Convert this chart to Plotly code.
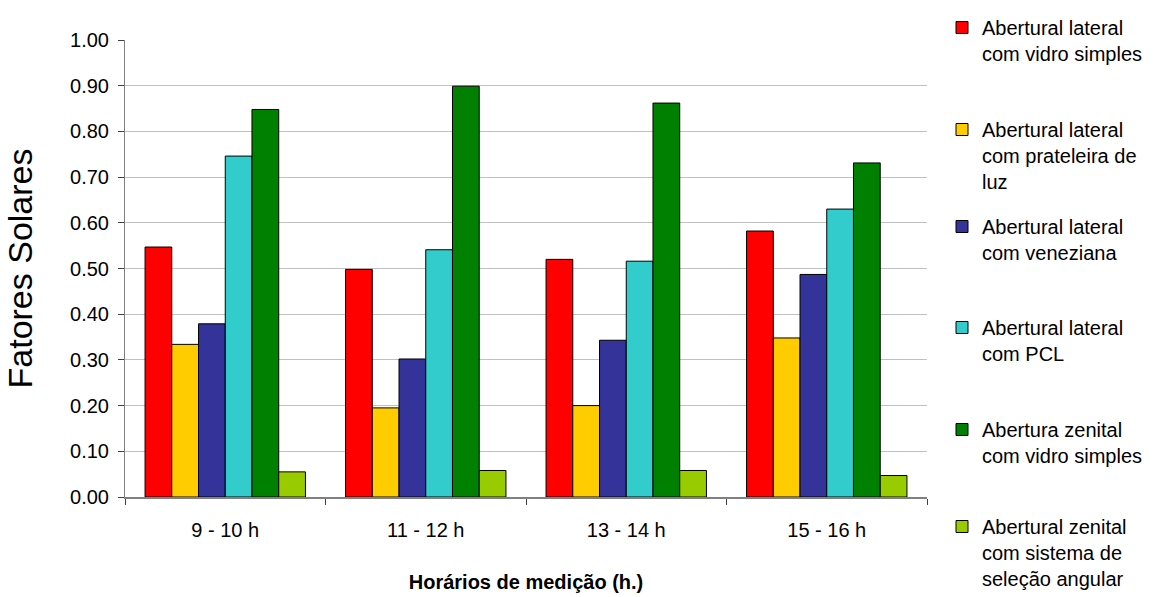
import plotly.graph_objects as go

# Measurement periods (x categories)
horarios = ["9 - 10 h", "11 - 12 h", "13 - 14 h", "15 - 16 h"]

# Solar factor per opening type
lateral_vidro = [0.547, 0.498, 0.520, 0.582]
lateral_prateleira = [0.334, 0.195, 0.200, 0.348]
lateral_veneziana = [0.379, 0.302, 0.343, 0.487]
lateral_pcl = [0.746, 0.541, 0.516, 0.630]
zenital_vidro = [0.848, 0.899, 0.862, 0.731]
zenital_selecao = [0.055, 0.058, 0.058, 0.047]

series_names = [
    "Abertural lateral<br>com vidro simples",
    "Abertural lateral<br>com prateleira de<br>luz",
    "Abertural lateral<br>com veneziana",
    "Abertural lateral<br>com PCL",
    "Abertura zenital<br>com vidro simples",
    "Abertural zenital<br>com sistema de<br>seleção angular",
]
series_values = [lateral_vidro, lateral_prateleira, lateral_veneziana,
                 lateral_pcl, zenital_vidro, zenital_selecao]
series_colors = ["#FF0000", "#FFCC00", "#333399", "#33CCCC", "#008000", "#99CC00"]

W, H = 1161, 597
M_L, M_R, M_T, M_B = 125, 234, 40, 100
plot_w = W - M_L - M_R
plot_h = H - M_T - M_B

# Each legend entry sits in its own legend box, stacked down the right side
legend_top_px = [8, 110, 207, 308, 410, 507]
legend_left_px = 942

FONT = "Arial, Liberation Sans, sans-serif"

fig = go.Figure()
for i, (name, vals, col) in enumerate(zip(series_names, series_values, series_colors)):
    leg = "legend" if i == 0 else f"legend{i + 1}"
    fig.add_trace(go.Bar(
        x=horarios, y=vals, name=name,
        marker=dict(color=col, line=dict(color="#000000", width=1)),
        legend=leg,
    ))

layout_legends = {}
for i, top in enumerate(legend_top_px):
    key = "legend" if i == 0 else f"legend{i + 1}"
    layout_legends[key] = dict(
        x=(legend_left_px - M_L) / plot_w,
        y=1 - (top - M_T) / plot_h,
        xanchor="left", yanchor="top",
        font=dict(family=FONT, size=20, color="#000000"),
        bgcolor="rgba(0,0,0,0)",
        valign="top",
        itemclick=False,
    )

fig.update_layout(
    width=W, height=H,
    margin=dict(l=M_L, r=M_R, t=M_T, b=M_B, autoexpand=False),
    paper_bgcolor="#FFFFFF", plot_bgcolor="#FFFFFF",
    barmode="group", bargap=0.2, bargroupgap=0,
    font=dict(family=FONT, color="#000000"),
    showlegend=True,
    **layout_legends,
)

fig.update_xaxes(
    automargin=False,
    showline=True, linecolor="#808080", linewidth=2,
    ticks="outside", tickson="boundaries", ticklen=6, tickcolor="#404040",
    tickfont=dict(family=FONT, size=20, color="#000000"),
    ticklabelstandoff=14,
    title=dict(text="<b>Horários de medição (h.)</b>",
               font=dict(family=FONT, size=20, color="#000000"), standoff=35),
    showgrid=False,
)
fig.update_yaxes(
    automargin=False,
    range=[0, 1.0], dtick=0.1, tickformat=".2f",
    showline=True, linecolor="#808080", linewidth=1,
    ticks="outside", ticklen=6, tickcolor="#404040",
    tickfont=dict(family=FONT, size=20, color="#000000"),
    ticklabelstandoff=5,
    showgrid=True, gridcolor="#C0C0C0", gridwidth=1,
    zeroline=False,
    title=dict(text="Fatores Solares",
               font=dict(family=FONT, size=34, color="#000000"), standoff=27),
)

fig.write_html("out.html")
